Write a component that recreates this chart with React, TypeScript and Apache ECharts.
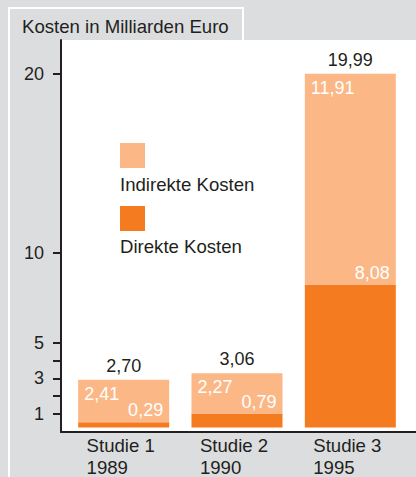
import React, { useEffect, useRef } from "react";
import * as echarts from "echarts";

const categories = ["Studie 1", "Studie 2", "Studie 3"];
const years = ["1989", "1990", "1995"];
const direct = [0.29, 0.79, 8.08];
const indirect = [2.41, 2.27, 11.91];
const totals = [2.7, 3.06, 19.99];
const yLabelValues = [1, 3, 5, 10, 20];
const yTickValues = [1, 2, 3, 4, 5, 10, 20];
const titleText = "Kosten in Milliarden Euro";
const legendNames = ["Indirekte Kosten", "Direkte Kosten"];

const FONT = "'Liberation Sans', Arial, Helvetica, sans-serif";
const TEXT = "#231f20";
const LIGHT = "#fbb886";
const DARK = "#f47b20";
const BG = "#dcdddf";
const YMAX = 21.9;
const FS = 18;
const FS_TXT = 18.6;

const fmt = (v: number) => v.toFixed(2).replace(".", ",");

export default function App() {
  const ref = useRef<HTMLDivElement>(null);
  useEffect(() => {
    if (!ref.current) return;
    const chart = echarts.init(ref.current, undefined, { renderer: "svg" });
    chart.setOption({
      animation: false,
      textStyle: { fontFamily: FONT },
      grid: [
        { left: 67, right: 9, top: 40, bottom: 45 },
        { left: 61, right: 0, top: 40, bottom: 45, show: true, backgroundColor: "#fff", borderWidth: 0 },
      ],
      xAxis: [
        {
          type: "category",
          gridIndex: 0,
          data: categories,
          axisLine: { show: false },
          axisTick: { show: false },
          axisLabel: {
            interval: 0,
            hideOverlap: false,
            margin: 7,
            color: TEXT,
            fontSize: FS_TXT,
            fontFamily: FONT,
            padding: [0, 6, 0, 0],
            formatter: (v: string, i: number) => `{a|${v}}\n{a|${years[i]}}`,
            rich: { a: { align: "left", fontSize: FS_TXT, lineHeight: 22, color: TEXT, fontFamily: FONT } },
          },
        },
        {
          type: "value",
          gridIndex: 1,
          min: 0,
          max: 1,
          axisLine: { show: true, lineStyle: { color: TEXT, width: 2 } },
          axisTick: { show: false },
          axisLabel: { show: false },
          splitLine: { show: false },
        },
      ],
      yAxis: [
        { type: "value", gridIndex: 0, min: 0, max: YMAX, show: false, splitLine: { show: false } },
        {
          type: "value",
          gridIndex: 1,
          min: 0,
          max: YMAX,
          axisLine: { show: true, lineStyle: { color: TEXT, width: 2 } },
          axisTick: { show: true, length: 8, customValues: yTickValues, lineStyle: { color: TEXT, width: 2 } },
          axisLabel: {
            show: true,
            customValues: yLabelValues,
            margin: 17,
            color: TEXT,
            fontSize: FS,
            fontFamily: FONT,
          },
          splitLine: { show: false },
        },
      ],
      series: [
        {
          name: legendNames[1],
          type: "bar",
          xAxisIndex: 0,
          yAxisIndex: 0,
          stack: "k",
          barWidth: 91,
          data: direct,
          itemStyle: { color: DARK },
          label: {
            show: true,
            position: ["100%", 0],
            align: "right",
            verticalAlign: "middle",
            offset: [-6, -12],
            color: "#fff",
            fontSize: FS,
            fontFamily: FONT,
            formatter: (p: any) => fmt(p.value),
          },
        },
        {
          name: legendNames[0],
          type: "bar",
          xAxisIndex: 0,
          yAxisIndex: 0,
          stack: "k",
          barWidth: 91,
          data: indirect,
          itemStyle: { color: LIGHT },
          label: {
            show: true,
            position: [6, 14],
            align: "left",
            verticalAlign: "middle",
            color: "#fff",
            fontSize: FS,
            fontFamily: FONT,
            formatter: (p: any) => fmt(p.value),
          },
        },
        {
          name: "Gesamt",
          type: "bar",
          xAxisIndex: 0,
          yAxisIndex: 0,
          barWidth: 91,
          barGap: "-100%",
          silent: true,
          z: 1,
          data: totals,
          itemStyle: { color: "rgba(255,255,255,0)" },
          label: {
            show: true,
            position: "top",
            distance: 5,
            color: TEXT,
            fontSize: FS,
            fontFamily: FONT,
            formatter: (p: any) => fmt(p.value),
          },
        },
      ],
      graphic: [
        {
          type: "polyline",
          z: 0,
          shape: { points: [[9, 477], [9, 8], [243, 8], [243, 40]] },
          style: { stroke: "#fff", lineWidth: 2, fill: null },
        },
        {
          type: "text",
          x: 22,
          y: 26,
          style: { text: titleText, fill: TEXT, fontSize: FS_TXT, fontFamily: FONT, verticalAlign: "middle" },
        },
        { type: "rect", z: 10, shape: { x: 120, y: 143, width: 25, height: 25 }, style: { fill: LIGHT } },
        {
          type: "text",
          z: 10,
          x: 120,
          y: 184,
          style: { text: legendNames[0], fill: TEXT, fontSize: FS_TXT, fontFamily: FONT, verticalAlign: "middle" },
        },
        { type: "rect", z: 10, shape: { x: 120, y: 206, width: 25, height: 25 }, style: { fill: DARK } },
        {
          type: "text",
          z: 10,
          x: 120,
          y: 246,
          style: { text: legendNames[1], fill: TEXT, fontSize: FS_TXT, fontFamily: FONT, verticalAlign: "middle" },
        },
      ],
    });
    return () => chart.dispose();
  }, []);
  return (
    <div
      ref={ref}
      style={{ position: "fixed", left: 0, top: 0, width: 416, height: 477, background: BG }}
    />
  );
}
